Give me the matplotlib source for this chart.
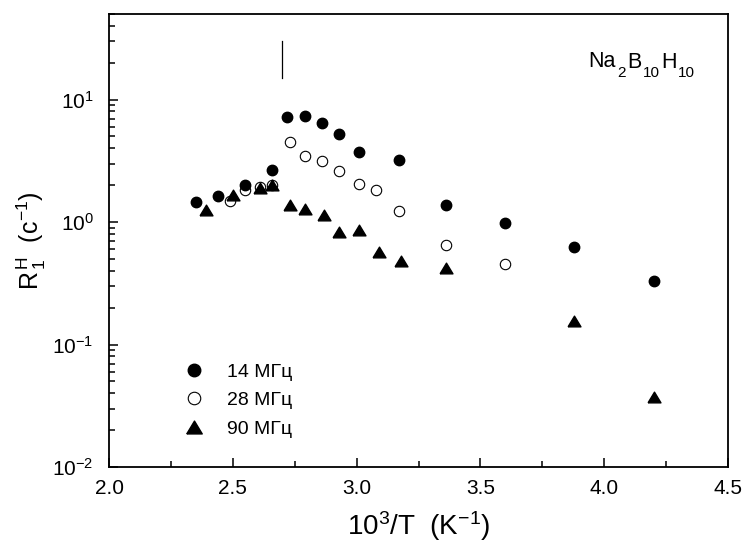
import matplotlib
matplotlib.use("Agg")
import matplotlib.pyplot as plt
from matplotlib.ticker import LogLocator, NullFormatter, MultipleLocator

plt.rcParams['font.family'] = ['Liberation Sans', 'DejaVu Sans']
plt.rcParams['mathtext.fontset'] = 'custom'
plt.rcParams['mathtext.rm'] = 'Liberation Sans'
plt.rcParams['mathtext.it'] = 'Liberation Sans:italic'
plt.rcParams['mathtext.bf'] = 'Liberation Sans:bold'

# Proton spin-lattice relaxation rate vs inverse temperature
x14 = [2.35, 2.44, 2.55, 2.66, 2.72, 2.79, 2.86, 2.93, 3.01, 3.17, 3.36, 3.60, 3.88, 4.20]
y14 = [1.45, 1.62, 1.99, 2.68, 7.2, 7.3, 6.5, 5.25, 3.74, 3.24, 1.39, 0.98, 0.63, 0.33]

x28 = [2.49, 2.55, 2.61, 2.66, 2.73, 2.79, 2.86, 2.93, 3.01, 3.08, 3.17, 3.36, 3.60]
y28 = [1.50, 1.83, 1.92, 2.02, 4.48, 3.49, 3.16, 2.62, 2.04, 1.82, 1.22, 0.65, 0.456]

x90 = [2.39, 2.50, 2.61, 2.66, 2.73, 2.79, 2.87, 2.93, 3.01, 3.09, 3.18, 3.36, 3.88, 4.20]
y90 = [1.25, 1.65, 1.90, 1.99, 1.39, 1.27, 1.15, 0.83, 0.86, 0.574, 0.482, 0.42, 0.157, 0.0376]

series_labels = ['14 МГц', '28 МГц', '90 МГц']
# formula pieces: (text, is_subscript)
compound_parts = [('Na', False), ('2', True), ('B', False), ('10', True),
                  ('H', False), ('10', True)]

# phase transition marker
trans_x = 2.70
trans_y = [15, 30]

fig = plt.figure(figsize=(7.46, 5.42), dpi=100)
ax = fig.add_axes([109 / 746, 1 - 467 / 542, 619 / 746, 453 / 542])

tri = [(-1.0, -0.83), (1.0, -0.83), (0.0, 0.83), (-1.0, -0.83)]

ax.plot(x14, y14, linestyle='none', marker='o', markersize=7.5,
        color='black', label=series_labels[0])
ax.plot(x28, y28, linestyle='none', marker='o', markersize=7.5,
        markerfacecolor='none', markeredgecolor='black', markeredgewidth=0.8,
        label=series_labels[1])
ax.plot(x90, y90, linestyle='none', marker=tri, markersize=9.3,
        color='black', label=series_labels[2])

ax.plot([trans_x, trans_x], trans_y, color='black', linewidth=0.9)

# chemical formula with low-set subscripts
main_fs, sub_fs = 15.5, 11
descent = 0.212 * main_fs
first = ax.text(3.935, 18.4, compound_parts[0][0], fontsize=main_fs,
                ha='left', va='baseline')
prev = first
for txt, is_sub in compound_parts[1:]:
    dy = descent - 6.5 if is_sub else descent
    prev = ax.annotate(txt, xy=(1, 0), xycoords=(prev, first),
                       xytext=(1.0, dy), textcoords='offset points',
                       fontsize=sub_fs if is_sub else main_fs,
                       ha='left', va='baseline')

ax.set_yscale('log')
ax.set_xlim(2.0, 4.5)
ax.set_ylim(0.01, 50)

ax.xaxis.set_major_locator(MultipleLocator(0.5))
ax.xaxis.set_minor_locator(MultipleLocator(0.25))
ax.xaxis.set_major_formatter(plt.FuncFormatter(lambda v, p: f'{v:.1f}'))
ax.yaxis.set_major_locator(LogLocator(base=10, numticks=10))
ax.yaxis.set_minor_locator(LogLocator(base=10, subs=range(2, 10), numticks=20))
ax.yaxis.set_minor_formatter(NullFormatter())

ax.tick_params(which='both', direction='in', top=False, right=False, width=1.1)
ax.tick_params(which='major', length=6.5, labelsize=15)
ax.tick_params(axis='x', which='major', pad=9)
ax.tick_params(axis='y', which='major', pad=11)
ax.tick_params(which='minor', length=4)
for s in ax.spines.values():
    s.set_linewidth(1.3)

ax.set_xlabel(r'$\mathregular{10^3/T\ \ (K^{-1})}$', fontsize=20, labelpad=8)
ax.set_ylabel(r'$\mathregular{R_{\,1}^{\,H}\ \ (c^{-1})}$', fontsize=18, labelpad=3)

ax.legend(loc='center left', bbox_to_anchor=(0.123, 0.147), frameon=False,
          fontsize=14, handlelength=0.9, handletextpad=1.25, labelspacing=0.55,
          borderpad=0, borderaxespad=0, markerscale=1.2)

fig.savefig('out.png', dpi=100)
